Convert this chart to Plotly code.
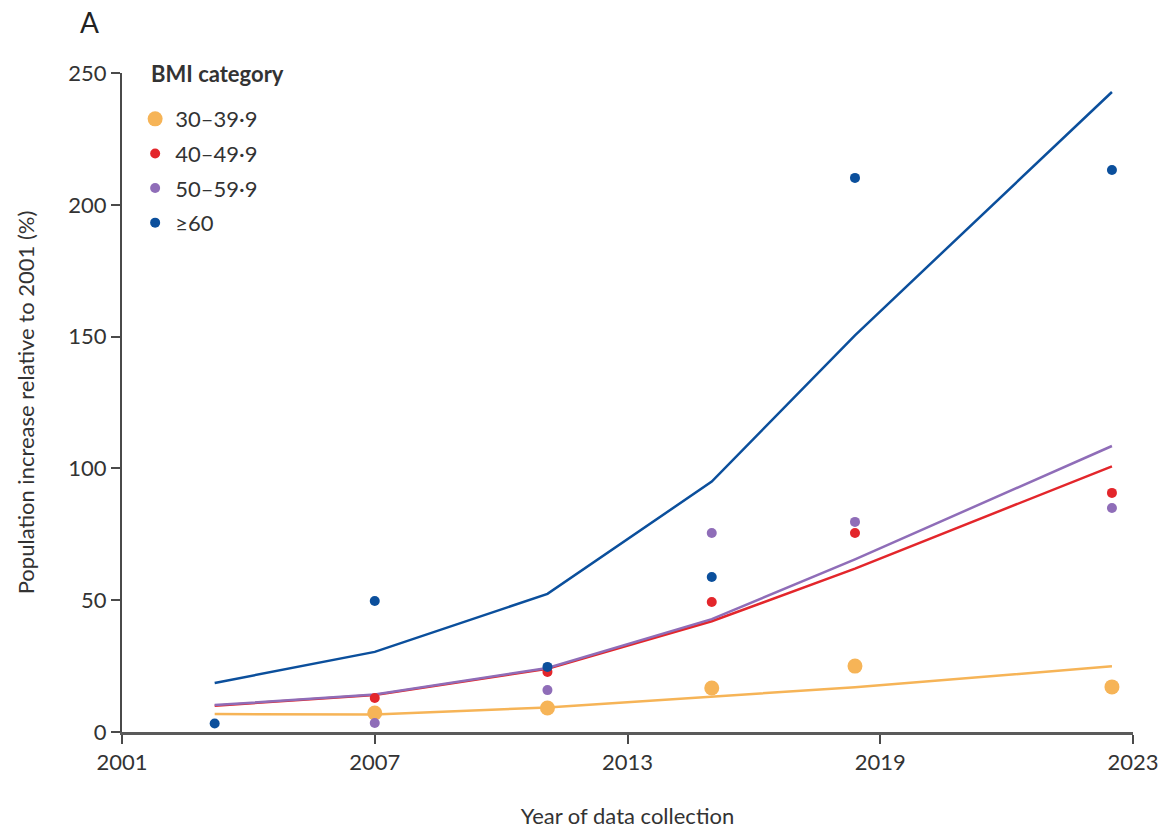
import plotly.graph_objects as go

# Survey positions on the horizontal axis and the axis ticks
survey_x = [2003.2, 2007.0, 2011.1, 2015.0, 2018.4, 2024.5]
tick_pos = [2001, 2007, 2013, 2019, 2025]
tick_labels = ["2001", "2007", "2013", "2019", "2023"]

categories = ["30–39·9", "40–49·9", "50–59·9", "≥60"]
colors = ["#F6B457", "#E3262B", "#8F6DB8", "#0B4F9C"]
marker_sizes = [15, 10, 10, 10]

# Observed increase relative to 2001 (%), None where no point is drawn
obs_30 = [None, 7.2, 9.1, 16.7, 25.0, 17.1]
obs_40 = [None, 12.9, 22.8, 49.3, 75.5, 90.7]
obs_50 = [None, 3.4, 15.9, 75.5, 79.7, 85.0]
obs_60 = [3.2, 49.7, 24.7, 58.8, 210.2, 213.2]

# Fitted trend (%)
fit_30 = [6.8, 6.6, 9.3, 13.3, 17.0, 24.9]
fit_40 = [10.0, 14.0, 24.0, 42.0, 62.0, 100.8]
fit_50 = [10.2, 14.2, 24.3, 42.8, 65.5, 108.5]
fit_60 = [18.6, 30.4, 52.4, 95.0, 150.5, 242.8]

observed = [obs_30, obs_40, obs_50, obs_60]
fitted = [fit_30, fit_40, fit_50, fit_60]

FONT = "Lato, Open Sans, sans-serif"
TXT = "#333333"
AXIS = "#4a4a4a"

fig = go.Figure()

# trend lines (red drawn before purple so purple sits on top)
for i in [0, 1, 2, 3]:
    fig.add_trace(go.Scatter(
        x=survey_x, y=fitted[i], mode="lines",
        line=dict(color=colors[i], width=2.5),
        showlegend=False, hoverinfo="skip",
    ))

for i, name in enumerate(categories):
    fig.add_trace(go.Scatter(
        x=survey_x, y=observed[i], mode="markers", name=name,
        legendgroup=f"g{i}",
        marker=dict(color=colors[i], size=marker_sizes[i], line=dict(width=0)),
    ))

fig.update_layout(
    width=1163, height=832,
    margin=dict(l=122, r=30, t=73, b=100),
    paper_bgcolor="white", plot_bgcolor="white",
    font=dict(family=FONT, size=22, color=TXT),
    legend=dict(
        x=0.013, y=0.962, xanchor="left", yanchor="top",
        font=dict(family=FONT, size=22, color=TXT),
        bgcolor="rgba(255,255,255,0)", itemwidth=30,
        tracegroupgap=3,
    ),
    xaxis=dict(
        range=[2001, 2025], tickvals=tick_pos, ticktext=tick_labels,
        automargin=False,
        showgrid=False, zeroline=False, showline=True,
        linecolor="#5a5a5a", linewidth=3,
        ticks="outside", ticklen=9, tickwidth=2, tickcolor=AXIS,
        tickfont=dict(family=FONT, size=22, color=TXT),
        title=dict(text="Year of data collection", standoff=35,
                   font=dict(family=FONT, size=22, color=TXT)),
    ),
    yaxis=dict(
        range=[0, 250], tickvals=[0, 50, 100, 150, 200, 250],
        automargin=False,
        showgrid=False, zeroline=False, showline=True,
        linecolor=AXIS, linewidth=2,
        ticks="outside", ticklen=9, tickwidth=2, tickcolor=AXIS,
        tickfont=dict(family=FONT, size=22, color=TXT),
        title=dict(text="Population increase relative to 2001 (%)", standoff=28,
                   font=dict(family=FONT, size=22, color=TXT)),
    ),
    annotations=[
        dict(text="A", xref="paper", yref="paper", x=-0.032, y=1.077,
             xanchor="center", yanchor="middle", showarrow=False,
             font=dict(family="Lato, sans-serif", size=28, color="#222222")),
        dict(text="<b>BMI category</b>", xref="paper", yref="paper",
             x=0.027, y=1.0, xanchor="left", yanchor="middle", showarrow=False,
             font=dict(family=FONT, size=22, color=TXT)),
    ],
)

fig.write_html("out.html")
